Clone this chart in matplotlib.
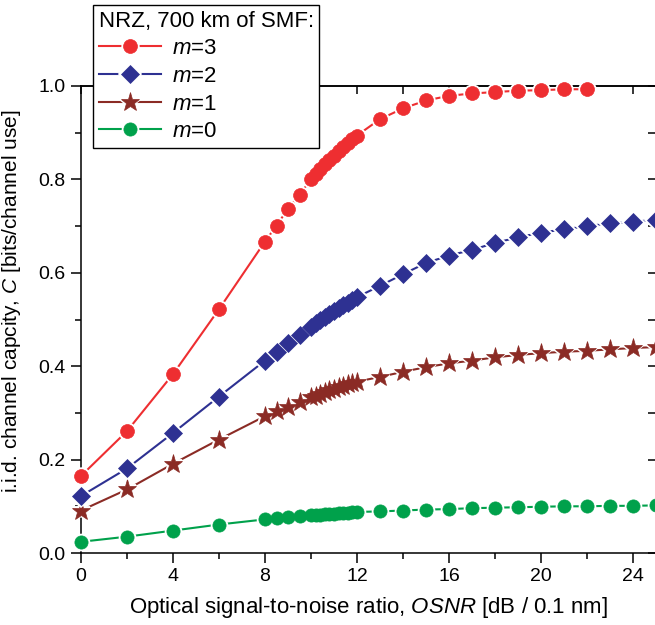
import matplotlib
matplotlib.use("Agg")
from matplotlib import pyplot as plt

plt.rcParams["font.family"] = ["Liberation Sans", "DejaVu Sans"]
plt.rcParams["mathtext.fontset"] = "custom"
plt.rcParams["mathtext.it"] = "Liberation Sans:italic"
plt.rcParams["mathtext.rm"] = "Liberation Sans"

# OSNR grid (dB / 0.1 nm)
osnr = [0, 2, 4, 6, 8, 8.5, 9, 9.5, 10, 10.2, 10.4, 10.6, 10.8, 11, 11.2, 11.4, 11.6, 11.8, 12,
        13, 14, 15, 16, 17, 18, 19, 20, 21, 22, 23, 24, 25]
osnr_m3 = osnr[:29]

cap_m3 = [0.165, 0.261, 0.383, 0.522, 0.667, 0.701, 0.737, 0.767, 0.800,
          0.811, 0.822, 0.832, 0.842, 0.851, 0.860, 0.869, 0.878, 0.886, 0.894,
          0.929, 0.952, 0.969, 0.979, 0.984, 0.987, 0.990, 0.991, 0.993, 0.993]
cap_m2 = [0.122, 0.181, 0.257, 0.335, 0.412, 0.431, 0.449, 0.467, 0.485,
          0.492, 0.499, 0.505, 0.512, 0.518, 0.524, 0.530, 0.536, 0.542, 0.548,
          0.572, 0.597, 0.621, 0.637, 0.649, 0.664, 0.676, 0.686, 0.693, 0.700, 0.706, 0.709, 0.714]
cap_m1 = [0.091, 0.136, 0.191, 0.243, 0.293, 0.304, 0.313, 0.324, 0.333,
          0.337, 0.341, 0.344, 0.348, 0.351, 0.355, 0.358, 0.361, 0.364, 0.367,
          0.377, 0.388, 0.398, 0.406, 0.412, 0.419, 0.424, 0.428, 0.431, 0.433, 0.436, 0.439, 0.441]
cap_m0 = [0.024, 0.035, 0.048, 0.061, 0.072, 0.076, 0.078, 0.080, 0.081,
          0.082, 0.082, 0.083, 0.084, 0.084, 0.085, 0.086, 0.086, 0.087, 0.088,
          0.089, 0.091, 0.093, 0.094, 0.096, 0.097, 0.098, 0.099, 0.100, 0.100, 0.101, 0.101, 0.102]

series = [
    (osnr_m3, cap_m3, "#ee2e31", "o", 10, 1.6, "$m$=3", 6),
    (osnr, cap_m2, "#2e3192", "D", 9, 1.6, "$m$=2", 5),
    (osnr, cap_m1, "#8b2b25", "*", 14, 1.4, "$m$=1", 4),
    (osnr, cap_m0, "#00a14b", "o", 9.5, 1.6, "$m$=0", 3),
]

fig = plt.figure(figsize=(6.55, 6.25), dpi=100)
ax = fig.add_axes([81 / 655, 1 - 553 / 625, 575 / 655, 467 / 625])

handles = []
for x, y, c, mk, ms, gap, lab, z in series:
    # line with white halo around markers (gap to symbol), then solid markers on top
    ln, = ax.plot(x, y, color=c, marker=mk, ms=ms, mec="white", mew=gap * 2,
                  lw=1.5, clip_on=False, zorder=z)
    mkr, = ax.plot(x, y, color=c, marker=mk, ms=ms, mec=c, mew=0.5,
                   ls="none", clip_on=False, zorder=z + 0.5)
    handles.append(((ln, mkr), lab))

ax.set_xlim(0, 25)
ax.set_ylim(0, 1.0)
ax.set_xticks([0, 4, 8, 12, 16, 20, 24])
ax.set_xticks([2, 6, 10, 14, 18, 22], minor=True)
ax.set_yticks([0.0, 0.2, 0.4, 0.6, 0.8, 1.0])
ax.set_yticks([0.1, 0.3, 0.5, 0.7, 0.9], minor=True)
ax.set_yticklabels(["0.0", "0.2", "0.4", "0.6", "0.8", "1.0"])
ax.tick_params(which="major", direction="out", length=7, width=1.1, labelsize=14, pad=4)
ax.tick_params(which="minor", direction="out", length=4, width=1.1)
for s in ax.spines.values():
    s.set_linewidth(1.1)

# mirrored ticks pointing inward on top and right
top = ax.secondary_xaxis("top")
top.set_xticks([0, 4, 8, 12, 16, 20, 24])
top.set_xticks([2, 6, 10, 14, 18, 22], minor=True)
top.tick_params(which="both", direction="in", length=6, width=1.1, labeltop=False)
top.spines["top"].set_linewidth(1.1)
right = ax.secondary_yaxis("right")
right.set_yticks([0.0, 0.2, 0.4, 0.6, 0.8, 1.0])
right.set_yticks([0.1, 0.3, 0.5, 0.7, 0.9], minor=True)
right.tick_params(which="both", direction="in", length=6, width=1.1, labelright=False)
right.spines["right"].set_linewidth(1.1)

ax.set_xlabel("Optical signal-to-noise ratio, $OSNR$ [dB / 0.1 nm]", fontsize=16, labelpad=7)
ax.set_ylabel("i.i.d. channel capcity, $C$ [bits/channel use]", fontsize=15)
ax.yaxis.set_label_coords(-0.1, 0.54)

leg = ax.legend([h for h, _ in handles], [l for _, l in handles],
                loc="upper left", bbox_to_anchor=(93 / 655, 1 - 5 / 625),
                bbox_transform=fig.transFigure, title="NRZ, 700 km of SMF:",
                fontsize=16, title_fontsize=16, frameon=True, fancybox=False,
                edgecolor="black", framealpha=1, handlelength=2.8, labelspacing=0.3,
                borderpad=0.25, handletextpad=0.5, alignment="left", borderaxespad=0)
leg.get_frame().set_linewidth(1.0)
leg.set_zorder(10)

plt.savefig("out.png", dpi=100)
plt.close()
